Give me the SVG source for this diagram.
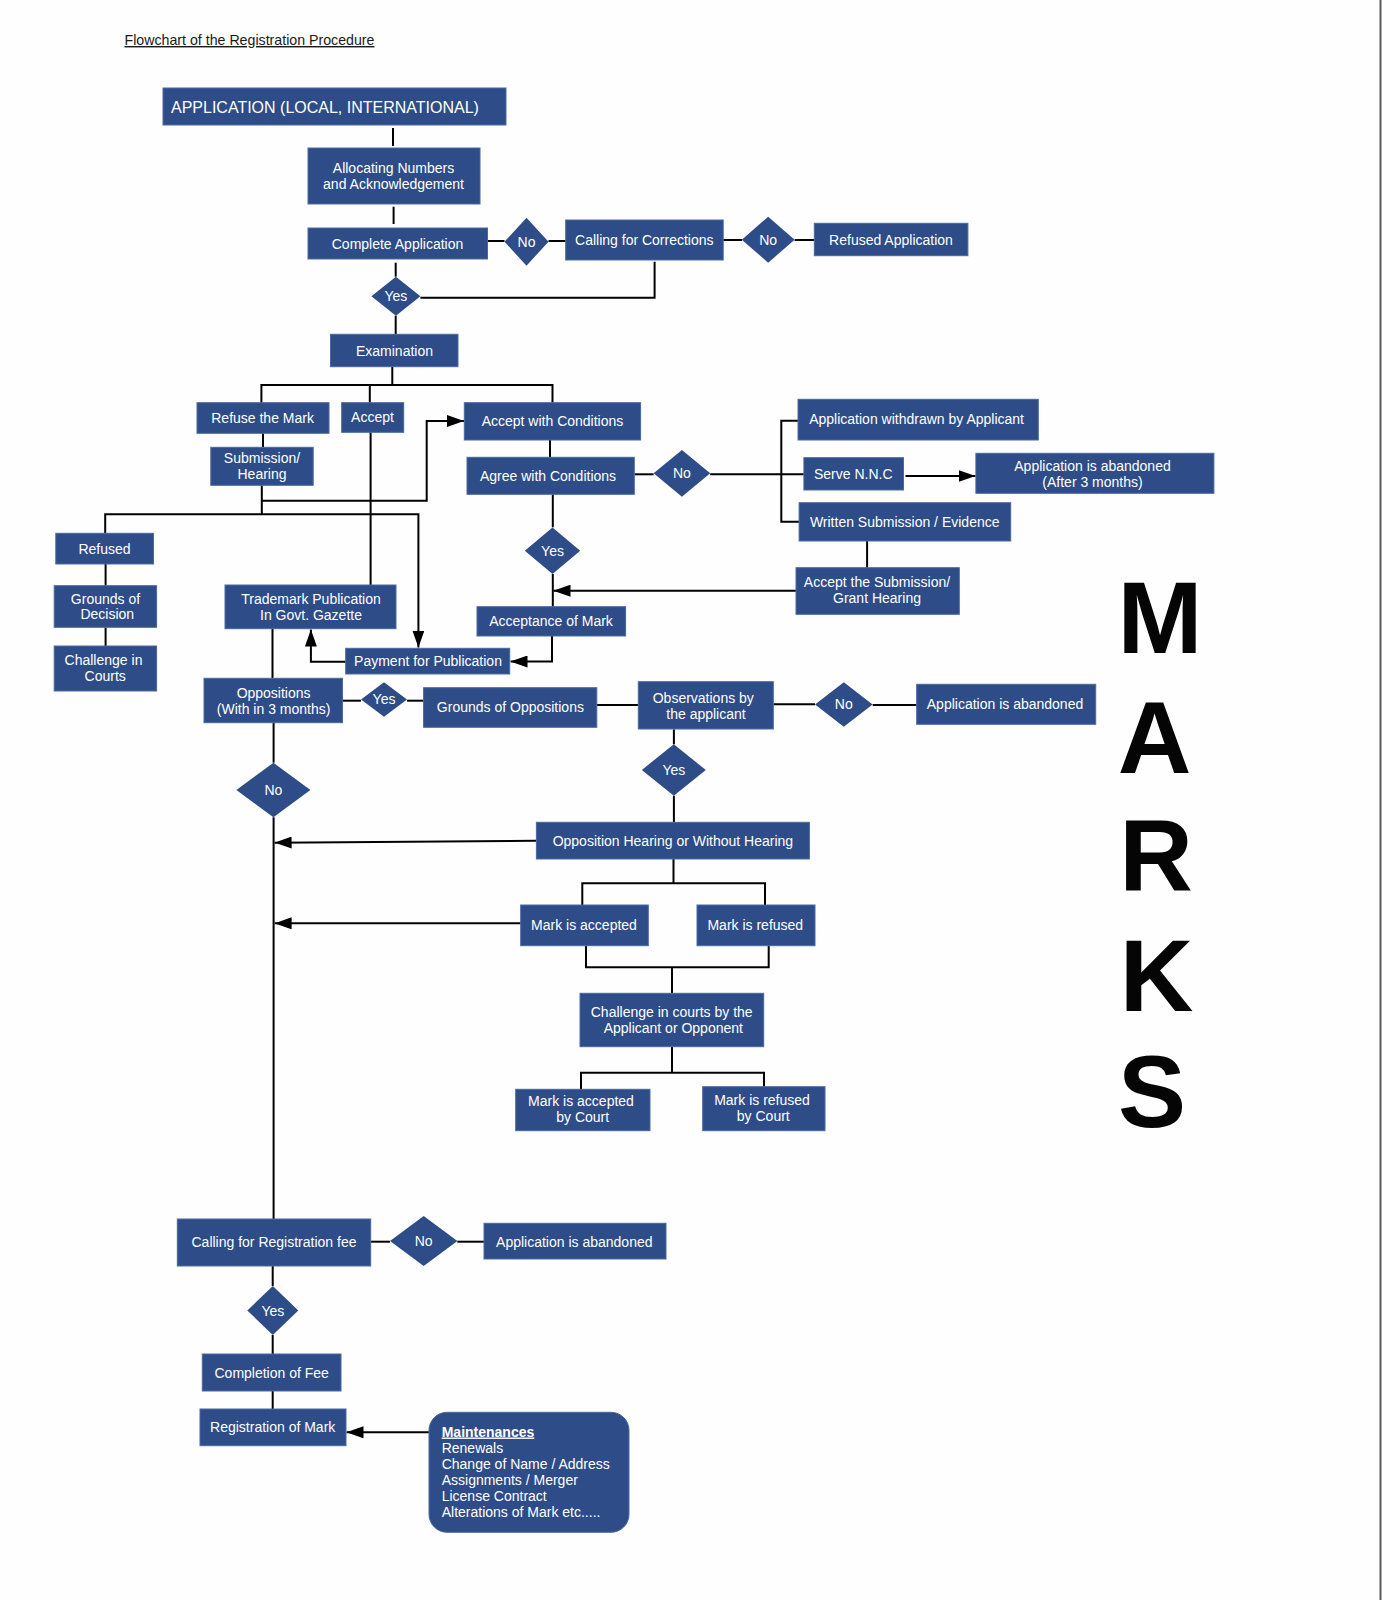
<svg xmlns="http://www.w3.org/2000/svg" width="1382" height="1600" viewBox="0 0 1382 1600">
<defs>
<style>
.box{fill:#2e4d88;stroke:#4a68a0;stroke-width:1}
.dia{fill:#2e4d88}
.t{font-family:"Liberation Sans",Arial,sans-serif;font-size:14px;fill:#ffffff;text-anchor:middle}
.tl{font-family:"Liberation Sans",Arial,sans-serif;font-size:14px;fill:#ffffff}
.c{stroke:#000;stroke-width:2;fill:none}
.big{font-family:"Liberation Sans",Arial,sans-serif;font-size:102px;font-weight:bold;fill:#050505;text-anchor:middle}
</style>
<marker id="arr" viewBox="0 0 17 12" refX="17" refY="6" markerWidth="17" markerHeight="12" markerUnits="userSpaceOnUse" orient="auto">
<path d="M0,0 L17,6 L0,12 z" fill="#000"/>
</marker>
</defs>
<rect x="0" y="0" width="1382" height="1600" fill="#fefefe"/>
<rect x="1379.5" y="0" width="2" height="1600" fill="#5a5a5a"/>
<text x="124.5" y="45" style="font-family:'Liberation Sans',Arial,sans-serif;font-size:14.2px;fill:#1a1a1a;text-decoration:underline">Flowchart of the Registration Procedure</text>

<g id="connectors" class="c">
<path d="M393,128 V146"/>
<path d="M393.6,206.7 V224"/>
<path d="M487.5,241 H504.5"/>
<path d="M548.5,241 H565.7"/>
<path d="M723,240 H742"/>
<path d="M794.6,240 H814.3"/>
<path d="M395.7,262.7 V276.7"/>
<path d="M420.4,297.7 H654.6 V261.7"/>
<path d="M395.7,315.7 V334.3"/>
<path d="M392.3,366.7 V385"/>
<path d="M261.4,402.7 V385 H552.5 V402.7"/>
<path d="M369.8,385 V402.7"/>
<path d="M263,433.3 V447.3"/>
<path d="M370.6,432.3 V585"/>
<path d="M550,440 V457.3"/>
<path d="M261.8,485.3 V515"/>
<path d="M261.8,500.7 H426.7 V421 H464" marker-end="url(#arr)"/>
<path d="M105.2,533.3 V514.3 H418.4 V647.5" marker-end="url(#arr)"/>
<path d="M105.6,564 V585.7"/>
<path d="M105.6,627.3 V646"/>
<path d="M272.5,628.7 V678.3"/>
<path d="M345.7,661.7 H310.9 V629.5" marker-end="url(#arr)"/>
<path d="M552,636 V661.5 H510.5" marker-end="url(#arr)"/>
<path d="M552.8,494.3 V527.3"/>
<path d="M552.8,574 V606.7"/>
<path d="M796,590.7 H553.5" marker-end="url(#arr)"/>
<path d="M634.6,474.3 H653.6"/>
<path d="M710.2,474.3 H803.9"/>
<path d="M798,420.7 H781.3 V521.7 H799.1"/>
<path d="M905.5,476 H975.5" marker-end="url(#arr)"/>
<path d="M867.1,541 V567.7"/>
<path d="M342.5,700.7 H361"/>
<path d="M407,700.7 H423.6"/>
<path d="M596.8,705 H638.3"/>
<path d="M773.3,704.3 H815"/>
<path d="M872.7,705 H916.7"/>
<path d="M273.6,722.7 V762.7"/>
<path d="M273.6,817.3 V1219"/>
<path d="M673.9,729.3 V744.3"/>
<path d="M673.9,795.7 V822.3"/>
<path d="M536.4,840.7 L274.6,842.7" marker-end="url(#arr)"/>
<path d="M673.5,859 V883.3"/>
<path d="M582.3,905 V883.3 H765 V905"/>
<path d="M520.7,923.3 H274.6" marker-end="url(#arr)"/>
<path d="M586,945.7 V967.3 H768.7 V945.7"/>
<path d="M672,967.3 V993.3"/>
<path d="M672,1046.7 V1072.7"/>
<path d="M581,1089.3 V1072.7 H764 V1086.7"/>
<path d="M370.7,1241.7 H390"/>
<path d="M457.3,1241.7 H484"/>
<path d="M272.7,1266 V1286"/>
<path d="M272.7,1335 V1354"/>
<path d="M272.7,1391 V1409"/>
<path d="M429,1432.3 H346.5" marker-end="url(#arr)"/>
</g>

<g id="app"><rect class="box" x="163" y="88" width="343" height="37"/><text class="tl" x="171" y="113" style="font-size:16px">APPLICATION (LOCAL, INTERNATIONAL)</text></g>
<g id="alloc"><rect class="box" x="308" y="148" width="172" height="56"/><text class="t" x="393.5" y="173">Allocating Numbers</text><text class="t" x="393.5" y="189">and Acknowledgement</text></g>
<g id="complete"><rect class="box" x="308" y="228" width="179.5" height="31"/><text class="t" x="397.5" y="249">Complete Application</text></g>
<g id="d_no1"><polygon class="dia" points="526.5,217.7 548.5,241.7 526.5,265.7 504.5,241.7"/><text class="t" x="526.5" y="246.5">No</text></g>
<g id="calling"><rect class="box" x="565.7" y="220" width="157.5" height="40"/><text class="t" x="644.3" y="245">Calling for Corrections</text></g>
<g id="d_no2"><polygon class="dia" points="768.2,216.7 794.6,239.7 768.2,262.7 741.8,239.7"/><text class="t" x="768.2" y="244.5">No</text></g>
<g id="refusedApp"><rect class="box" x="814.3" y="223.3" width="153.6" height="32.4"/><text class="t" x="891" y="245">Refused Application</text></g>
<g id="d_yes1"><polygon class="dia" points="395.9,276.7 420.4,296.2 395.9,315.7 371.4,296.2"/><text class="t" x="395.9" y="301">Yes</text></g>
<g id="exam"><rect class="box" x="330.5" y="334.3" width="127.5" height="32.4"/><text class="t" x="394.5" y="355.5">Examination</text></g>
<g id="refuseMark"><rect class="box" x="197" y="402.7" width="132" height="30.6"/><text class="t" x="262.6" y="423">Refuse the Mark</text></g>
<g id="accept"><rect class="box" x="341.7" y="402.7" width="62" height="29.6"/><text class="t" x="372.5" y="421.5">Accept</text></g>
<g id="acceptCond"><rect class="box" x="464.3" y="402.7" width="176.3" height="37.3"/><text class="t" x="552.5" y="426">Accept with Conditions</text></g>
<g id="submission"><rect class="box" x="210.8" y="447.3" width="102.4" height="38"/><text class="t" x="262" y="463">Submission/</text><text class="t" x="262" y="479">Hearing</text></g>
<g id="agreeCond"><rect class="box" x="467" y="457.3" width="167.3" height="37"/><text class="t" x="548" y="480.5">Agree with Conditions</text></g>
<g id="d_no3"><polygon class="dia" points="681.9,450 710.2,473.3 681.9,496.7 653.6,473.3"/><text class="t" x="681.9" y="478.3">No</text></g>
<g id="withdrawn"><rect class="box" x="798" y="399.3" width="240.3" height="40.7"/><text class="t" x="916.6" y="424">Application withdrawn by Applicant</text></g>
<g id="serve"><rect class="box" x="803.9" y="457.7" width="99.6" height="32.3"/><text class="t" x="853.3" y="479">Serve N.N.C</text></g>
<g id="abandoned3m"><rect class="box" x="975.9" y="453.3" width="238" height="40"/><text class="t" x="1092.5" y="470.5">Application is abandoned</text><text class="t" x="1092.5" y="486.5">(After 3 months)</text></g>
<g id="written"><rect class="box" x="799.1" y="502.7" width="211.6" height="38.3"/><text class="t" x="904.7" y="526.5">Written Submission / Evidence</text></g>
<g id="acceptSub"><rect class="box" x="796" y="567.7" width="163.3" height="46.6"/><text class="t" x="877" y="587">Accept the Submission/</text><text class="t" x="877" y="603">Grant Hearing</text></g>
<g id="d_yes2"><polygon class="dia" points="552.5,527.4 580.2,550.7 552.5,574 524.8,550.7"/><text class="t" x="552.5" y="555.5">Yes</text></g>
<g id="acceptance"><rect class="box" x="477" y="606.7" width="148.6" height="29.3"/><text class="t" x="551" y="626">Acceptance of Mark</text></g>
<g id="refused"><rect class="box" x="55.8" y="533.3" width="97.7" height="30.7"/><text class="t" x="104.5" y="553.7">Refused</text></g>
<g id="grounds"><rect class="box" x="54.2" y="585.7" width="102.4" height="41.6"/><text class="t" x="105.5" y="603.5">Grounds of</text><text class="t" x="107.3" y="619.3">Decision</text></g>
<g id="challenge"><rect class="box" x="54.2" y="646" width="102.4" height="45"/><text class="t" x="103.5" y="665.3">Challenge in</text><text class="t" x="105.2" y="681">Courts</text></g>
<g id="trademark"><rect class="box" x="225" y="585" width="171" height="43.7"/><text class="t" x="311" y="604.3">Trademark Publication</text><text class="t" x="311" y="620.3">In Govt. Gazette</text></g>
<g id="payment"><rect class="box" x="345.7" y="648.3" width="164" height="25.7"/><text class="t" x="428" y="666.3">Payment for Publication</text></g>
<g id="oppositions"><rect class="box" x="204" y="678.3" width="138.5" height="44.4"/><text class="t" x="273.6" y="697.7">Oppositions</text><text class="t" x="273.6" y="713.7">(With in 3 months)</text></g>
<g id="d_yes3"><polygon class="dia" points="384,682.3 407,699.5 384,716.7 361,699.5"/><text class="t" x="384" y="704.3">Yes</text></g>
<g id="groundsOpp"><rect class="box" x="423.6" y="687.7" width="173.2" height="39.6"/><text class="t" x="510.4" y="712">Grounds of Oppositions</text></g>
<g id="observations"><rect class="box" x="638.3" y="681.7" width="135" height="47.3"/><text class="t" x="703.3" y="702.7">Observations by</text><text class="t" x="706" y="718.7">the applicant</text></g>
<g id="d_no4"><polygon class="dia" points="843.8,682.3 872.6,704.5 843.8,726.7 815,704.5"/><text class="t" x="843.8" y="709.3">No</text></g>
<g id="abandoned2"><rect class="box" x="916.7" y="684.3" width="179" height="40"/><text class="t" x="1005" y="708.7">Application is abandoned</text></g>
<g id="d_no5"><polygon class="dia" points="273.4,762.7 310.4,790 273.4,817.3 236.4,790"/><text class="t" x="273.4" y="795">No</text></g>
<g id="d_yes4"><polygon class="dia" points="673.8,744.3 705.8,770 673.8,795.7 641.8,770"/><text class="t" x="673.8" y="775">Yes</text></g>
<g id="oppHearing"><rect class="box" x="536.4" y="822.3" width="273" height="36.7"/><text class="t" x="672.9" y="845.5">Opposition Hearing or Without Hearing</text></g>
<g id="markAcc"><rect class="box" x="520.7" y="905" width="127.6" height="40.7"/><text class="t" x="584" y="929.7">Mark is accepted</text></g>
<g id="markRef"><rect class="box" x="697" y="905" width="118" height="40.7"/><text class="t" x="755.3" y="929.7">Mark is refused</text></g>
<g id="challengeCourts"><rect class="box" x="580" y="993.3" width="183.7" height="53.4"/><text class="t" x="671.7" y="1017">Challenge in courts by the</text><text class="t" x="673.3" y="1033">Applicant or Opponent</text></g>
<g id="markAccCourt"><rect class="box" x="515.7" y="1089.3" width="134.3" height="41.4"/><text class="t" x="581" y="1106.3">Mark is accepted</text><text class="t" x="582.7" y="1122">by Court</text></g>
<g id="markRefCourt"><rect class="box" x="702.7" y="1086.7" width="122.3" height="44"/><text class="t" x="762" y="1104.7">Mark is refused</text><text class="t" x="763.3" y="1121">by Court</text></g>
<g id="callingFee"><rect class="box" x="177.3" y="1219" width="193.4" height="47"/><text class="t" x="274" y="1247">Calling for Registration fee</text></g>
<g id="d_no6"><polygon class="dia" points="423.7,1216 457.4,1241 423.7,1266 390,1241"/><text class="t" x="423.7" y="1246">No</text></g>
<g id="abandoned3"><rect class="box" x="484" y="1223.3" width="182" height="35.7"/><text class="t" x="574.3" y="1246.5">Application is abandoned</text></g>
<g id="d_yes5"><polygon class="dia" points="272.8,1286 298.3,1310.5 272.8,1335 247.3,1310.5"/><text class="t" x="272.8" y="1315.5">Yes</text></g>
<g id="completion"><rect class="box" x="202.3" y="1354" width="138.7" height="37"/><text class="t" x="271.7" y="1377.7">Completion of Fee</text></g>
<g id="registration"><rect class="box" x="200" y="1409" width="146" height="36.7"/><text class="t" x="272.7" y="1432">Registration of Mark</text></g>
<g id="maintenances"><rect class="box" x="429" y="1412.3" width="200" height="120" rx="18" ry="18"/>
<text class="tl" x="441.7" y="1436.5" style="font-weight:bold;text-decoration:underline">Maintenances</text>
<text class="tl" x="441.7" y="1452.5">Renewals</text>
<text class="tl" x="441.7" y="1468.5">Change of Name / Address</text>
<text class="tl" x="441.7" y="1484.5">Assignments / Merger</text>
<text class="tl" x="441.7" y="1500.5">License Contract</text>
<text class="tl" x="441.7" y="1516.5">Alterations of Mark etc.....</text>
</g>

<g id="marks">
<text class="big" x="1160" y="653">M</text>
<text class="big" x="1154.5" y="772.7">A</text>
<text class="big" x="1156" y="891">R</text>
<text class="big" x="1156.5" y="1010.5">K</text>
<text class="big" x="1152" y="1127">S</text>
</g>
</svg>
